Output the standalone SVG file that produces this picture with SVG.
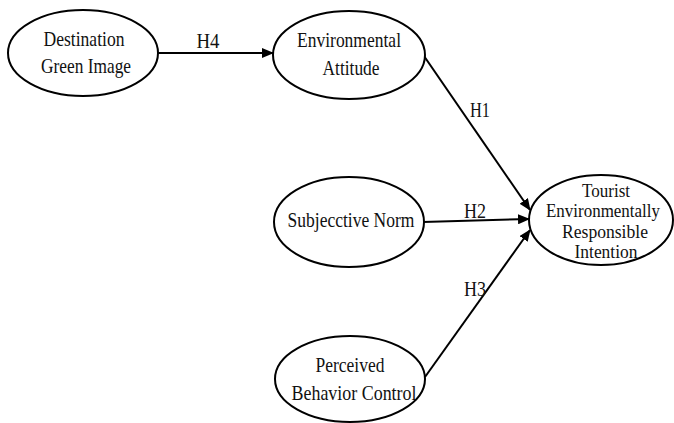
<svg xmlns="http://www.w3.org/2000/svg" width="674" height="423" viewBox="0 0 674 423">
<defs>
<marker id="arr" viewBox="0 0 12 10" refX="11" refY="5" markerWidth="12" markerHeight="10" markerUnits="userSpaceOnUse" orient="auto">
<path d="M0,0 L12,5 L0,10 Z" fill="#000"/>
</marker>
<style>
.node ellipse{fill:#fff;stroke:#000;stroke-width:2}
text{font-family:"Liberation Serif","Times New Roman",serif;font-size:21px;fill:#111;text-anchor:middle}
.small text{font-size:19px}
.edges line{stroke:#000;stroke-width:2;marker-end:url(#arr)}
</style>
</defs>
<rect width="674" height="423" fill="#fff"/>
<g class="edges">
<line x1="158" y1="53" x2="273" y2="53"/>
<line x1="424" y1="56" x2="530" y2="210"/>
<line x1="423" y1="222" x2="529" y2="219"/>
<line x1="425" y1="377" x2="530" y2="230"/>
<text x="208" y="48" textLength="23" lengthAdjust="spacingAndGlyphs">H4</text>
<text x="480" y="117" textLength="20" lengthAdjust="spacingAndGlyphs">H1</text>
<text x="475" y="218" textLength="22" lengthAdjust="spacingAndGlyphs">H2</text>
<text x="475" y="296" textLength="22" lengthAdjust="spacingAndGlyphs">H3</text>
</g>
<g id="n1" class="node">
<ellipse cx="83" cy="53" rx="75" ry="43"/>
<text x="84" y="46" textLength="81" lengthAdjust="spacingAndGlyphs">Destination</text>
<text x="86" y="73" textLength="90" lengthAdjust="spacingAndGlyphs">Green Image</text>
</g>
<g id="n2" class="node">
<ellipse cx="349" cy="55" rx="76" ry="44"/>
<text x="349" y="47" textLength="104" lengthAdjust="spacingAndGlyphs">Environmental</text>
<text x="351" y="75" textLength="57" lengthAdjust="spacingAndGlyphs">Attitude</text>
</g>
<g id="n3" class="node">
<ellipse cx="349" cy="222" rx="75" ry="45"/>
<text x="351" y="227" textLength="127" lengthAdjust="spacingAndGlyphs">Subjecctive Norm</text>
</g>
<g id="n4" class="node small">
<ellipse cx="601" cy="220" rx="72" ry="45"/>
<text x="606" y="197" textLength="48" lengthAdjust="spacingAndGlyphs">Tourist</text>
<text x="603" y="217" textLength="114" lengthAdjust="spacingAndGlyphs">Environmentally</text>
<text x="605" y="238" textLength="86" lengthAdjust="spacingAndGlyphs">Responsible</text>
<text x="606" y="258" textLength="63" lengthAdjust="spacingAndGlyphs">Intention</text>
</g>
<g id="n5" class="node">
<ellipse cx="350" cy="379" rx="75" ry="43"/>
<text x="350" y="372" textLength="69" lengthAdjust="spacingAndGlyphs">Perceived</text>
<text x="354" y="400" textLength="125" lengthAdjust="spacingAndGlyphs">Behavior Control</text>
</g>
</svg>
